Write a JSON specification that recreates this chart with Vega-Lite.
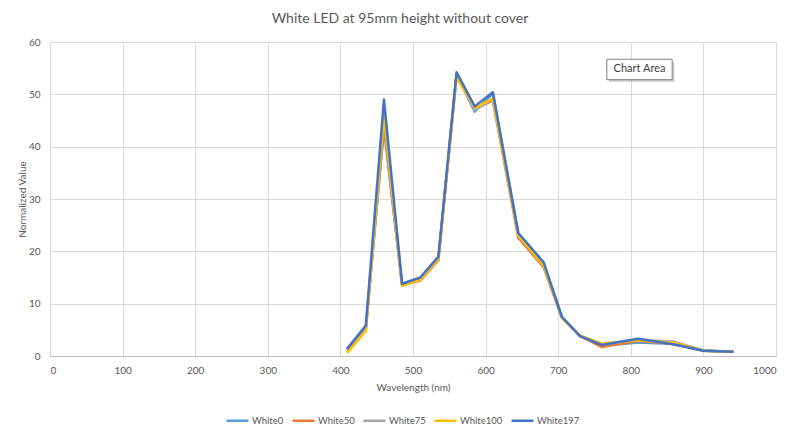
{
  "$schema": "https://vega.github.io/schema/vega-lite/v6.json",
  "width": 726,
  "height": 314,
  "autosize": {"type": "none"},
  "padding": {"left": 50, "top": 42, "right": 24, "bottom": 76},
  "background": "white",
  "title": {
    "text": "White LED at 95mm height without cover",
    "font": "Lato",
    "fontSize": 14,
    "fontWeight": "normal",
    "color": "#595959",
    "anchor": "middle",
    "dx": -13,
    "offset": 11
  },
  "config": {
    "view": {"stroke": null},
    "font": "Lato",
    "axis": {
      "labelFont": "Lato",
      "labelFontSize": 10,
      "labelColor": "#595959",
      "titleFont": "Lato",
      "titleFontSize": 10,
      "titleFontWeight": "normal",
      "titleColor": "#595959",
      "gridColor": "#D9D9D9",
      "gridWidth": 1,
      "ticks": false
    },
    "legend": {
      "labelFont": "Lato",
      "labelFontSize": 9.5,
      "labelColor": "#595959"
    }
  },
  "layer": [
    {
      "data": {
        "values": [
          {"wl": 410, "series": "White0", "v": 1.4},
          {"wl": 435, "series": "White0", "v": 5.5},
          {"wl": 460, "series": "White0", "v": 43.5},
          {"wl": 485, "series": "White0", "v": 13.7},
          {"wl": 510, "series": "White0", "v": 14.9},
          {"wl": 535, "series": "White0", "v": 18.8},
          {"wl": 560, "series": "White0", "v": 53.8},
          {"wl": 585, "series": "White0", "v": 46.7},
          {"wl": 610, "series": "White0", "v": 50.2},
          {"wl": 645, "series": "White0", "v": 23.3},
          {"wl": 680, "series": "White0", "v": 17.6},
          {"wl": 705, "series": "White0", "v": 7.5},
          {"wl": 730, "series": "White0", "v": 3.8},
          {"wl": 760, "series": "White0", "v": 1.9},
          {"wl": 810, "series": "White0", "v": 2.6},
          {"wl": 860, "series": "White0", "v": 2.3},
          {"wl": 900, "series": "White0", "v": 1.0},
          {"wl": 940, "series": "White0", "v": 0.8},

          {"wl": 410, "series": "White50", "v": 0.9},
          {"wl": 435, "series": "White50", "v": 5.0},
          {"wl": 460, "series": "White50", "v": 44.0},
          {"wl": 485, "series": "White50", "v": 13.5},
          {"wl": 510, "series": "White50", "v": 14.4},
          {"wl": 535, "series": "White50", "v": 18.3},
          {"wl": 560, "series": "White50", "v": 53.6},
          {"wl": 585, "series": "White50", "v": 47.2},
          {"wl": 610, "series": "White50", "v": 48.8},
          {"wl": 645, "series": "White50", "v": 22.6},
          {"wl": 680, "series": "White50", "v": 16.9},
          {"wl": 705, "series": "White50", "v": 7.3},
          {"wl": 730, "series": "White50", "v": 3.9},
          {"wl": 760, "series": "White50", "v": 1.7},
          {"wl": 810, "series": "White50", "v": 2.9},
          {"wl": 860, "series": "White50", "v": 2.3},
          {"wl": 900, "series": "White50", "v": 1.0},
          {"wl": 940, "series": "White50", "v": 0.8},

          {"wl": 410, "series": "White75", "v": 1.1},
          {"wl": 435, "series": "White75", "v": 5.2},
          {"wl": 460, "series": "White75", "v": 45.0},
          {"wl": 485, "series": "White75", "v": 13.6},
          {"wl": 510, "series": "White75", "v": 14.6},
          {"wl": 535, "series": "White75", "v": 18.5},
          {"wl": 560, "series": "White75", "v": 53.7},
          {"wl": 585, "series": "White75", "v": 47.0},
          {"wl": 610, "series": "White75", "v": 49.0},
          {"wl": 645, "series": "White75", "v": 23.0},
          {"wl": 680, "series": "White75", "v": 17.2},
          {"wl": 705, "series": "White75", "v": 7.4},
          {"wl": 730, "series": "White75", "v": 3.9},
          {"wl": 760, "series": "White75", "v": 2.2},
          {"wl": 810, "series": "White75", "v": 3.1},
          {"wl": 860, "series": "White75", "v": 2.7},
          {"wl": 900, "series": "White75", "v": 1.1},
          {"wl": 940, "series": "White75", "v": 0.8},

          {"wl": 410, "series": "White100", "v": 0.7},
          {"wl": 435, "series": "White100", "v": 4.8},
          {"wl": 460, "series": "White100", "v": 46.3},
          {"wl": 485, "series": "White100", "v": 13.4},
          {"wl": 510, "series": "White100", "v": 14.6},
          {"wl": 535, "series": "White100", "v": 18.6},
          {"wl": 560, "series": "White100", "v": 53.3},
          {"wl": 585, "series": "White100", "v": 47.4},
          {"wl": 610, "series": "White100", "v": 49.2},
          {"wl": 645, "series": "White100", "v": 23.1},
          {"wl": 680, "series": "White100", "v": 17.3},
          {"wl": 705, "series": "White100", "v": 7.4},
          {"wl": 730, "series": "White100", "v": 3.9},
          {"wl": 760, "series": "White100", "v": 2.4},
          {"wl": 810, "series": "White100", "v": 3.0},
          {"wl": 860, "series": "White100", "v": 2.5},
          {"wl": 900, "series": "White100", "v": 1.0},
          {"wl": 940, "series": "White100", "v": 0.8},

          {"wl": 410, "series": "White197", "v": 1.5},
          {"wl": 435, "series": "White197", "v": 5.8},
          {"wl": 460, "series": "White197", "v": 49.0},
          {"wl": 485, "series": "White197", "v": 13.8},
          {"wl": 510, "series": "White197", "v": 15.0},
          {"wl": 535, "series": "White197", "v": 19.0},
          {"wl": 560, "series": "White197", "v": 54.2},
          {"wl": 585, "series": "White197", "v": 47.7},
          {"wl": 610, "series": "White197", "v": 50.4},
          {"wl": 645, "series": "White197", "v": 23.5},
          {"wl": 680, "series": "White197", "v": 17.9},
          {"wl": 705, "series": "White197", "v": 7.5},
          {"wl": 730, "series": "White197", "v": 3.8},
          {"wl": 760, "series": "White197", "v": 2.1},
          {"wl": 810, "series": "White197", "v": 3.3},
          {"wl": 860, "series": "White197", "v": 2.2},
          {"wl": 900, "series": "White197", "v": 1.0},
          {"wl": 940, "series": "White197", "v": 0.8}
        ]
      },
      "mark": {"type": "line", "strokeWidth": 2.5, "strokeJoin": "round", "strokeCap": "round"},
      "encoding": {
        "x": {
          "field": "wl",
          "type": "quantitative",
          "scale": {"domain": [0, 1000], "nice": false},
          "axis": {
            "title": "Wavelength (nm)",
            "values": [0, 100, 200, 300, 400, 500, 600, 700, 800, 900, 1000],
            "format": "d",
            "labelPadding": 9,
            "titlePadding": 7,
            "domainColor": "#BFBFBF",
            "domainWidth": 1
          }
        },
        "y": {
          "field": "v",
          "type": "quantitative",
          "scale": {"domain": [0, 60], "nice": false},
          "axis": {
            "title": "Normalized Value",
            "values": [0, 10, 20, 30, 40, 50, 60],
            "domain": false,
            "labelPadding": 10,
            "titlePadding": 1
          }
        },
        "color": {
          "field": "series",
          "type": "nominal",
          "sort": ["White0", "White50", "White75", "White100", "White197"],
          "scale": {
            "domain": ["White0", "White50", "White75", "White100", "White197"],
            "range": ["#5B9BD5", "#ED7D31", "#A5A5A5", "#FFC000", "#4472C4"]
          },
          "legend": {
            "title": null,
            "orient": "none",
            "direction": "horizontal",
            "legendX": 175,
            "legendY": 366,
            "symbolType": "stroke",
            "symbolSize": 484,
            "symbolStrokeWidth": 2.5,
            "labelOffset": 2,
            "columnPadding": 3
          }
        }
      }
    },
    {
      "data": {"values": [{"x1": 770, "x2": 860, "y1": 52.4, "y2": 56.2}]},
      "mark": {"type": "rect", "fill": "#A6A6A6", "opacity": 0.6},
      "encoding": {
        "x": {"field": "x1", "type": "quantitative"},
        "x2": {"field": "x2"},
        "y": {"field": "y1", "type": "quantitative"},
        "y2": {"field": "y2"}
      }
    },
    {
      "data": {"values": [{"x1": 767, "x2": 857, "y1": 52.8, "y2": 56.7}]},
      "mark": {"type": "rect", "fill": "white", "stroke": "#808080", "strokeWidth": 1},
      "encoding": {
        "x": {"field": "x1", "type": "quantitative"},
        "x2": {"field": "x2"},
        "y": {"field": "y1", "type": "quantitative"},
        "y2": {"field": "y2"}
      }
    },
    {
      "data": {"values": [{"note": "Chart Area", "x": 812, "y": 54.75}]},
      "mark": {"type": "text", "font": "Lato", "fontSize": 11, "color": "#404040", "align": "center", "baseline": "middle"},
      "encoding": {
        "x": {"field": "x", "type": "quantitative"},
        "y": {"field": "y", "type": "quantitative"},
        "text": {"field": "note"}
      }
    }
  ]
}
